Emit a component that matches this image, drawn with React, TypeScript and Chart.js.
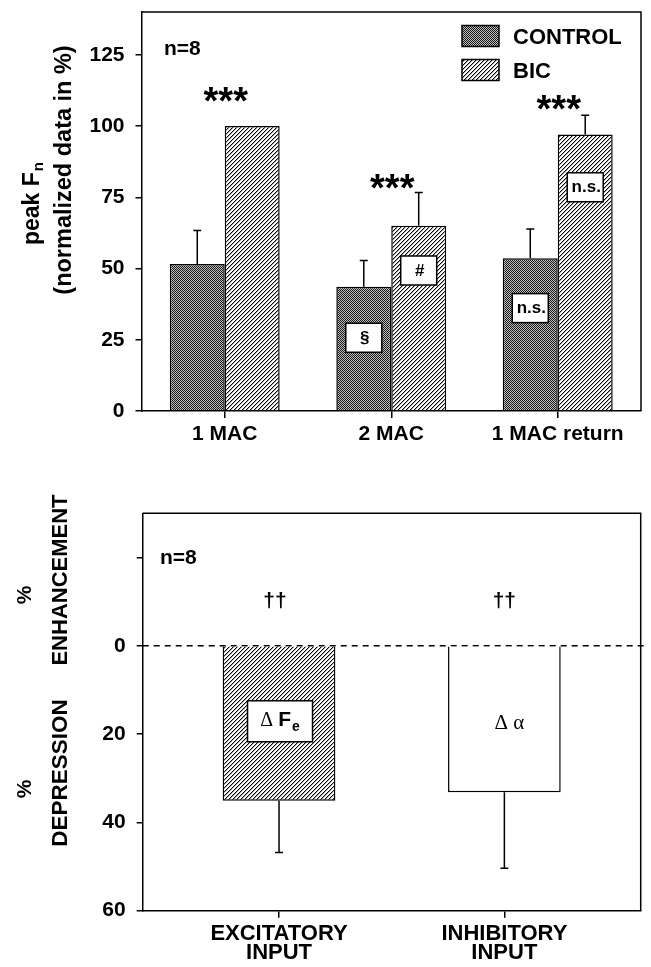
import React, { useEffect, useRef } from 'react';
import { Chart, registerables } from 'chart.js';

Chart.register(...registerables);

// ---------- top panel data ----------
const categories = ['1 MAC', '2 MAC', '1 MAC return'];
const controlValues = [51.6, 43.6, 53.6];
const controlErrors = [11.7, 9.2, 10.3];
const bicValues = [100, 65.0, 97.0];
const bicErrors = [0, 11.7, 6.8];
const topTicks = [0, 25, 50, 75, 100, 125];
const starLevels = [111.2, 80.5, 108.2];
const controlMarks = ['', '§', 'n.s.'];
const controlMarkLevels = [0, 25.7, 36.1];
const bicMarks = ['', '#', 'n.s.'];
const bicMarkLevels = [0, 49.3, 78.5];

// ---------- bottom panel data ----------
const inputs = [['EXCITATORY', 'INPUT'], ['INHIBITORY', 'INPUT']];
const inputPositions = [1, 2];
const depressionValues = [35.1, 33.2];
const depressionErrors = [11.7, 17.2];
const bottomTicks = [-20, 0, 20, 40, 60];
const daggerLevels = [-10.3, -10.3];
const deltaLevels = [17.1, 17.3];

const SANS = '"Liberation Sans", Arial, Helvetica, sans-serif';
const SERIF = '"Liberation Serif", "Times New Roman", serif';

function makeChecker(): CanvasPattern | string {
  const c = document.createElement('canvas');
  c.width = 2; c.height = 2;
  const g = c.getContext('2d');
  if (!g) return '#666';
  g.fillStyle = '#bdbdbd'; g.fillRect(0, 0, 2, 2);
  g.fillStyle = '#1a1a1a'; g.fillRect(0, 0, 1, 1); g.fillRect(1, 1, 1, 1);
  return g.createPattern(c, 'repeat') || '#666';
}

function makeHatch(): CanvasPattern | string {
  const n = 4;
  const c = document.createElement('canvas');
  c.width = n; c.height = n;
  const g = c.getContext('2d');
  if (!g) return '#ccc';
  g.fillStyle = '#fff'; g.fillRect(0, 0, n, n);
  for (let x = 0; x < n; x++) {
    for (let y = 0; y < n; y++) {
      const k = (x + y) % n;
      if (k === n - 1) { g.fillStyle = '#000'; g.fillRect(x, y, 1, 1); }
      else if (k === 0) { g.fillStyle = '#a8a8a8'; g.fillRect(x, y, 1, 1); }
    }
  }
  return g.createPattern(c, 'repeat') || '#ccc';
}

function drawErrorBar(ctx: CanvasRenderingContext2D, x: number, y0: number, y1: number) {
  ctx.strokeStyle = '#000';
  ctx.lineWidth = 1.5;
  ctx.beginPath();
  ctx.moveTo(x, y0); ctx.lineTo(x, y1);
  ctx.moveTo(x - 4, y1); ctx.lineTo(x + 4, y1);
  ctx.stroke();
}

function labelBox(ctx: CanvasRenderingContext2D, cx: number, cy: number, w: number, h: number) {
  ctx.fillStyle = '#fff';
  ctx.fillRect(cx - w / 2, cy - h / 2, w, h);
  ctx.strokeStyle = '#000';
  ctx.lineWidth = 1.5;
  ctx.strokeRect(cx - w / 2, cy - h / 2, w, h);
}

// draw text with its ink box centred vertically at cy
function centeredText(ctx: CanvasRenderingContext2D, text: string, x: number, cy: number) {
  ctx.textBaseline = 'alphabetic';
  const m = ctx.measureText(text);
  const y = cy + (m.actualBoundingBoxAscent - m.actualBoundingBoxDescent) / 2;
  ctx.fillText(text, x, y);
}

const zeroPad = (s: any) => {
  s.paddingTop = 0; s.paddingBottom = 0; s.paddingLeft = 0; s.paddingRight = 0;
};

export default function App() {
  const topRef = useRef<HTMLCanvasElement>(null);
  const botRef = useRef<HTMLCanvasElement>(null);

  useEffect(() => {
    const checker = makeChecker();
    const hatch = makeHatch();

    const topPlugin = {
      id: 'topDecor',
      afterDatasetsDraw(chart: any) {
        const ctx: CanvasRenderingContext2D = chart.ctx;
        const ys = chart.scales.y;
        const xs = chart.scales.x;
        const area = chart.chartArea;
        ctx.save();
        ctx.strokeStyle = '#000';
        ctx.lineWidth = 1.5;
        ctx.beginPath();
        ctx.moveTo(area.left, area.top); ctx.lineTo(area.right, area.top); ctx.lineTo(area.right, area.bottom);
        ctx.stroke();
        // error bars
        const errs = [controlErrors, bicErrors];
        const vals = [controlValues, bicValues];
        [0, 1].forEach((di) => {
          const meta = chart.getDatasetMeta(di);
          meta.data.forEach((bar: any, j: number) => {
            if (!errs[di][j]) return;
            drawErrorBar(ctx, bar.x, bar.y, ys.getPixelForValue(vals[di][j] + errs[di][j]));
          });
        });
        // stars
        ctx.fillStyle = '#000';
        ctx.textAlign = 'center';
        ctx.font = `bold 38px ${SANS}`;
        starLevels.forEach((lv, j) => {
          centeredText(ctx, '***', xs.getPixelForValue(j) + 1, ys.getPixelForValue(lv));
        });
        // marks in boxes
        const marks = [controlMarks, bicMarks];
        const levels = [controlMarkLevels, bicMarkLevels];
        [0, 1].forEach((di) => {
          const meta = chart.getDatasetMeta(di);
          meta.data.forEach((bar: any, j: number) => {
            const m = marks[di][j];
            if (!m) return;
            const cy = ys.getPixelForValue(levels[di][j]);
            labelBox(ctx, bar.x, cy, 36, 29);
            ctx.fillStyle = '#000';
            ctx.font = `bold 17px ${SANS}`;
            ctx.textAlign = 'center';
            centeredText(ctx, m, bar.x + 1, cy);
          });
        });
        // n=8
        ctx.textAlign = 'left';
        ctx.font = `bold 21px ${SANS}`;
        centeredText(ctx, 'n=8', 164, 48);
        // legend
        const ds = chart.data.datasets;
        const rows = [{ y: 36, fill: ds[0].backgroundColor, t: ds[0].label }, { y: 70, fill: ds[1].backgroundColor, t: ds[1].label }];
        rows.forEach((r) => {
          ctx.fillStyle = r.fill;
          ctx.fillRect(462, r.y - 10.5, 37, 21);
          ctx.strokeStyle = '#000';
          ctx.lineWidth = 1.5;
          ctx.strokeRect(462, r.y - 10.5, 37, 21);
          ctx.fillStyle = '#000';
          ctx.font = `bold 22px ${SANS}`;
          ctx.textAlign = 'left';
          centeredText(ctx, r.t, 513, r.y);
        });
        // y titles
        ctx.save();
        ctx.translate(33, 204);
        ctx.rotate(-Math.PI / 2);
        ctx.font = `bold 23px ${SANS}`;
        const main = 'peak F';
        const wMain = ctx.measureText(main).width;
        ctx.font = `bold 15px ${SANS}`;
        const wSub = ctx.measureText('n').width;
        const start = -(wMain + wSub) / 2;
        ctx.textAlign = 'left';
        ctx.textBaseline = 'middle';
        ctx.font = `bold 23px ${SANS}`;
        ctx.fillText(main, start, 0);
        ctx.font = `bold 15px ${SANS}`;
        ctx.fillText('n', start + wMain + 1, 6);
        ctx.restore();
        ctx.save();
        ctx.translate(65, 170);
        ctx.rotate(-Math.PI / 2);
        ctx.font = `bold 23.5px ${SANS}`;
        ctx.textAlign = 'center';
        ctx.textBaseline = 'middle';
        ctx.fillText('(normalized data in %)', 0, 0);
        ctx.restore();
        ctx.restore();
      },
    };

    const tickFont = { family: SANS, size: 21, weight: 'bold' as const };

    const top = new Chart(topRef.current as HTMLCanvasElement, {
      type: 'bar',
      data: {
        labels: categories,
        datasets: [
          { label: 'CONTROL', data: controlValues, backgroundColor: checker as any, borderColor: '#000', borderWidth: 1.5, categoryPercentage: 0.66, barPercentage: 1 },
          { label: 'BIC', data: bicValues, backgroundColor: hatch as any, borderColor: '#000', borderWidth: 1.5, categoryPercentage: 0.66, barPercentage: 1 },
        ],
      },
      options: {
        animation: false,
        responsive: false,
        devicePixelRatio: 1,
        layout: { padding: { left: 0, right: 10, top: 12, bottom: 0 } },
        plugins: { legend: { display: false }, tooltip: { enabled: false } },
        scales: {
          x: {
            grid: { display: true, drawOnChartArea: false, drawTicks: true, tickLength: 7, color: '#000', lineWidth: 1.5, offset: false },
            border: { display: true, color: '#000', width: 1.5 },
            ticks: { font: tickFont, color: '#000', padding: 4, maxRotation: 0, autoSkip: false },
            afterFit: (s: any) => { s.height = 49; zeroPad(s); },
          },
          y: {
            min: 0,
            max: 140,
            grid: { display: true, drawOnChartArea: false, drawTicks: true, tickLength: 6, color: '#000', lineWidth: 1.5 },
            border: { display: true, color: '#000', width: 1.5 },
            ticks: { font: tickFont, color: '#000', padding: 11, callback: (v: any) => (topTicks.includes(v) ? String(v) : '') },
            afterBuildTicks: (s: any) => { s.ticks = topTicks.map((v) => ({ value: v })); },
            afterFit: (s: any) => { s.width = 141.5; zeroPad(s); },
          },
        },
      } as any,
      plugins: [topPlugin],
    });

    const botPlugin = {
      id: 'botDecor',
      beforeDatasetsDraw(chart: any) {
        const ctx: CanvasRenderingContext2D = chart.ctx;
        const area = chart.chartArea;
        const ys = chart.scales.y;
        ctx.save();
        ctx.strokeStyle = '#000';
        ctx.lineWidth = 1.3;
        ctx.setLineDash([6, 5]);
        const y0 = ys.getPixelForValue(0);
        ctx.beginPath();
        ctx.moveTo(area.left, y0); ctx.lineTo(area.right + 6, y0);
        ctx.stroke();
        ctx.restore();
      },
      afterDatasetsDraw(chart: any) {
        const ctx: CanvasRenderingContext2D = chart.ctx;
        const ys = chart.scales.y;
        const area = chart.chartArea;
        ctx.save();
        ctx.strokeStyle = '#000';
        ctx.lineWidth = 1.5;
        ctx.beginPath();
        ctx.moveTo(area.left, area.top); ctx.lineTo(area.right, area.top); ctx.lineTo(area.right, area.bottom);
        ctx.stroke();
        const meta = chart.getDatasetMeta(0);
        meta.data.forEach((bar: any, j: number) => {
          drawErrorBar(ctx, bar.x, bar.y, ys.getPixelForValue(depressionValues[j] + depressionErrors[j]));
          ctx.fillStyle = '#000';
          ctx.font = `bold 21px ${SANS}`;
          ctx.textAlign = 'center';
          centeredText(ctx, '††', bar.x - 4 * (1 - j), ys.getPixelForValue(daggerLevels[j]));
        });
        // Δ F_e box
        const b0 = meta.data[0];
        const cy0 = ys.getPixelForValue(deltaLevels[0]);
        labelBox(ctx, b0.x + 1, cy0, 65, 41);
        ctx.fillStyle = '#000';
        ctx.textBaseline = 'middle';
        ctx.textAlign = 'left';
        ctx.font = `20px ${SERIF}`;
        const wD = ctx.measureText('Δ ').width;
        ctx.font = `bold 21px ${SANS}`;
        const wF = ctx.measureText('F').width;
        ctx.font = `bold 14px ${SANS}`;
        const we = ctx.measureText('e').width;
        let sx = b0.x + 1 - (wD + wF + we + 1) / 2;
        ctx.font = `20px ${SERIF}`;
        ctx.fillText('Δ ', sx, cy0 - 1);
        sx += wD;
        ctx.font = `bold 21px ${SANS}`;
        ctx.fillText('F', sx, cy0 - 1);
        sx += wF + 1;
        ctx.font = `bold 14px ${SANS}`;
        ctx.fillText('e', sx, cy0 + 6);
        // Δ α
        const b1 = meta.data[1];
        ctx.font = `21px ${SERIF}`;
        ctx.textAlign = 'center';
        centeredText(ctx, 'Δ α', b1.x + 5, ys.getPixelForValue(deltaLevels[1]));
        // n=8
        ctx.textAlign = 'left';
        ctx.font = `bold 21px ${SANS}`;
        centeredText(ctx, 'n=8', 160, 97);
        // y titles
        const rot = (t: string, x: number, y: number, size: number) => {
          ctx.save();
          ctx.translate(x, y);
          ctx.rotate(-Math.PI / 2);
          ctx.font = `bold ${size}px ${SANS}`;
          ctx.textAlign = 'center';
          ctx.textBaseline = 'middle';
          ctx.fillText(t, 0, 0);
          ctx.restore();
        };
        rot('%', 25, 135, 21);
        rot('%', 25, 329, 21);
        rot('ENHANCEMENT', 61, 120, 22);
        rot('DEPRESSION', 61, 313, 22.5);
        ctx.restore();
      },
    };

    const bot = new Chart(botRef.current as HTMLCanvasElement, {
      type: 'bar',
      data: {
        datasets: [
          {
            label: 'depression',
            data: inputPositions.map((x, i) => ({ x, y: depressionValues[i] })),
            backgroundColor: [hatch as any, '#fff'],
            borderColor: '#000',
            borderWidth: 1.5,
            categoryPercentage: 0.5,
            barPercentage: 1,
          },
        ],
      },
      options: {
        animation: false,
        responsive: false,
        devicePixelRatio: 1,
        layout: { padding: { left: 0, right: 10.3, top: 53.3, bottom: 0 } },
        plugins: { legend: { display: false }, tooltip: { enabled: false } },
        scales: {
          x: {
            type: 'linear',
            min: 0.395,
            max: 2.605,
            offset: false,
            grid: { display: true, drawOnChartArea: false, drawTicks: true, tickLength: 7, color: '#000', lineWidth: 1.5, offset: false },
            border: { display: true, color: '#000', width: 1.5 },
            ticks: {
              font: { family: SANS, size: 22, weight: 'bold', lineHeight: 0.9 },
              color: '#000',
              padding: 6,
              maxRotation: 0,
              autoSkip: false,
              callback: (v: any) => {
                const k = inputPositions.indexOf(v);
                return k >= 0 ? inputs[k] : '';
              },
            },
            afterBuildTicks: (s: any) => { s.ticks = inputPositions.map((v) => ({ value: v })); },
            afterFit: (s: any) => { s.height = 56.3; zeroPad(s); },
          },
          y: {
            reverse: true,
            min: -30,
            max: 60,
            grid: { display: true, drawOnChartArea: false, drawTicks: true, tickLength: 6, color: '#000', lineWidth: 1.5 },
            border: { display: true, color: '#000', width: 1.5 },
            ticks: { font: tickFont, color: '#000', padding: 11, callback: (v: any) => (v >= 0 && bottomTicks.includes(v) ? String(v) : '') },
            afterBuildTicks: (s: any) => { s.ticks = bottomTicks.map((v) => ({ value: v })); },
            afterFit: (s: any) => { s.width = 142.7; zeroPad(s); },
          },
        },
      } as any,
      plugins: [botPlugin],
    });

    return () => {
      top.destroy();
      bot.destroy();
    };
  }, []);

  return (
    <div style={{ position: 'absolute', left: 0, top: 0, width: 651, height: 967, background: '#fff' }}>
      <canvas ref={topRef} width={651} height={460} style={{ position: 'absolute', left: 0, top: 0, width: 651, height: 460 }} />
      <canvas ref={botRef} width={651} height={507} style={{ position: 'absolute', left: 0, top: 460, width: 651, height: 507 }} />
    </div>
  );
}
